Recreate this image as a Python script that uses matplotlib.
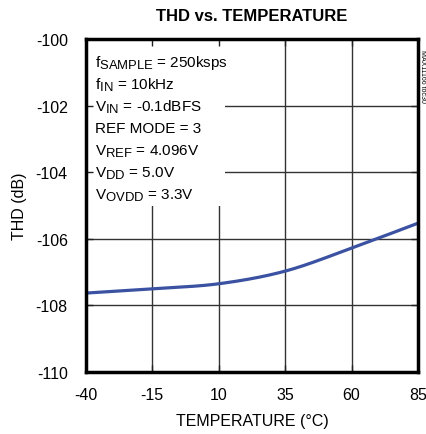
import matplotlib
matplotlib.use("Agg")
from matplotlib import pyplot as plt
from matplotlib.patches import Rectangle
import matplotlib._mathtext as mt
import numpy as np

plt.rcParams['font.family'] = ['Liberation Sans', 'DejaVu Sans']
plt.rcParams['mathtext.fontset'] = 'custom'
plt.rcParams['mathtext.rm'] = 'Liberation Sans'
plt.rcParams['axes.unicode_minus'] = False
mt.SHRINK_FACTOR = 0.85   # subscripts in the datasheet are nearly full size

# data
temperature = [-40, -15, 10, 35, 60, 85]
thd = [-107.63, -107.5, -107.35, -106.97, -106.28, -105.53]
x_ticks = [-40, -15, 10, 35, 60, 85]
y_ticks = [-110, -108, -106, -104, -102, -100]
conditions = [
    r'$\mathregular{f_{SAMPLE}}$ = 250ksps',
    r'$\mathregular{f_{IN}}$ = 10kHz',
    r'$\mathregular{V_{IN}}$ = -0.1dBFS',
    'REF MODE = 3',
    r'$\mathregular{V_{REF}}$ = 4.096V',
    r'$\mathregular{V_{DD}}$ = 5.0V',
    r'$\mathregular{V_{OVDD}}$ = 3.3V',
]


def catmull_rom(x, y, n=30):
    # smooth curve through the given points
    px = np.concatenate([[2 * x[0] - x[1]], x, [2 * x[-1] - x[-2]]])
    py = np.concatenate([[2 * y[0] - y[1]], y, [2 * y[-1] - y[-2]]])
    ox, oy = [], []
    t = np.linspace(0, 1, n)
    for i in range(1, len(px) - 2):
        for p, o in ((px, ox), (py, oy)):
            p0, p1, p2, p3 = p[i - 1], p[i], p[i + 1], p[i + 2]
            o.extend(0.5 * (2 * p1 + (-p0 + p2) * t
                            + (2 * p0 - 5 * p1 + 4 * p2 - p3) * t ** 2
                            + (-p0 + 3 * p1 - 3 * p2 + p3) * t ** 3))
    return ox, oy


fig = plt.figure(figsize=(4.27, 4.35), dpi=100)
ax = fig.add_axes([0.201, 0.1425, 0.778, 0.7655])

cx, cy = catmull_rom(np.array(temperature, float), np.array(thd, float))
ax.plot(cx, cy, color='#3b52a3', lw=2.3, zorder=4)

ax.set_xlim(-40, 85)
ax.set_ylim(-110, -100)
ax.set_xticks(x_ticks)
ax.set_yticks(y_ticks)
ax.tick_params(direction='in', length=5, width=1, labelsize=11.5, color='#222222',
               top=True, right=True)
ax.tick_params(axis='y', pad=13)
ax.tick_params(axis='x', pad=11)

# grid lines drawn by hand so the text box can sit over them
for x in x_ticks[1:-1]:
    ax.axvline(x, color='#333333', lw=1, zorder=0.5)
for y in y_ticks[1:-1]:
    ax.axhline(y, color='#333333', lw=1, zorder=0.5)

ax.add_patch(Rectangle((0, 0.5), 0.42, 0.5, transform=ax.transAxes,
                       facecolor='white', edgecolor='none', zorder=1))

for i, line in enumerate(conditions):
    ax.text(0.027, 0.918 - i * 0.0661, line, transform=ax.transAxes,
            fontsize=11, va='baseline', ha='left', zorder=3)

for s in ax.spines.values():
    s.set_linewidth(2.5)
    s.set_zorder(5)

ax.set_xlabel('TEMPERATURE (°C)', fontsize=11.5, labelpad=8)
ax.set_ylabel('THD (dB)', fontsize=11.5, labelpad=6)
ax.set_title('THD vs. TEMPERATURE', fontsize=12, fontweight='bold', pad=14)

fig.text(0.99, 0.885, 'MAX11166 toc30', rotation=270, fontsize=5,
         ha='center', va='top')

fig.savefig('out.png', dpi=100)
